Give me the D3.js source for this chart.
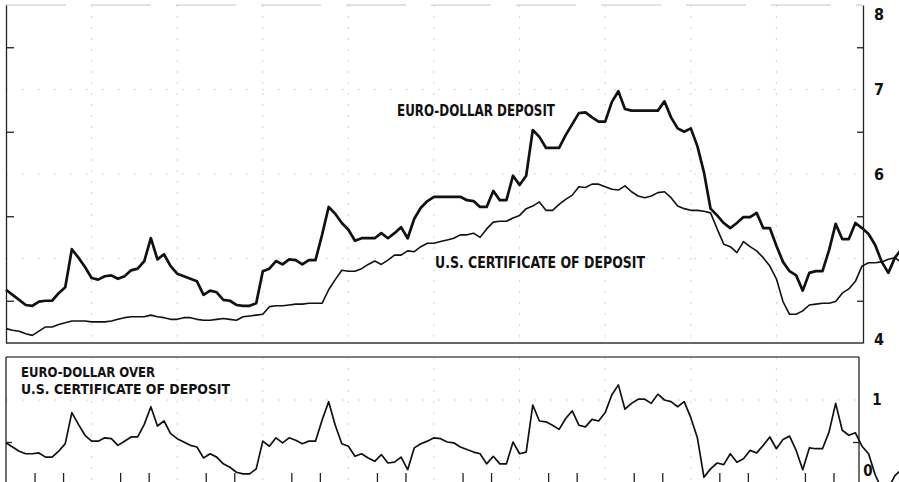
<!DOCTYPE html>
<html>
<head>
<meta charset="utf-8">
<script src="https://cdn.jsdelivr.net/npm/d3@7"></script>
<style>
  html, body { margin: 0; padding: 0; background: #fff; }
  svg { display: block; }
  .lbl { font-family: 'Liberation Sans Narrow', 'DejaVu Sans Condensed', sans-serif; font-weight: bold; fill: #111; }
  .grid { stroke: #d2d2d2; stroke-width: 1; stroke-dasharray: 2,9; fill: none; }
  .hgrid { stroke: #d8d8d8; stroke-width: 1; stroke-dasharray: 2,14; fill: none; }
  .axis path, .axis line { stroke: #222; stroke-width: 1.3; }
  .frame { stroke: #333; stroke-width: 1.3; fill: none; }
  .frame-light { stroke: #c6c6c6; stroke-width: 1; fill: none; stroke-dasharray: 60,25; }
</style>
</head>
<body>
<div id="chart"></div>
<script>
// weekly observations, percent per annum (week 0 = left edge, 13 weeks per quarter)
var euroDollar = [
  4.63, 4.57, 4.51, 4.45, 4.44, 4.49, 4.50, 4.50, 4.59, 4.66,
  5.11, 5.01, 4.90, 4.77, 4.75, 4.79, 4.80, 4.76, 4.79, 4.86,
  4.88, 4.97, 5.24, 4.99, 5.05, 4.91, 4.82, 4.79, 4.76, 4.73,
  4.57, 4.62, 4.60, 4.51, 4.50, 4.45, 4.44, 4.44, 4.47, 4.85,
  4.88, 4.97, 4.93, 4.99, 4.98, 4.93, 4.98, 4.98, 5.28, 5.61,
  5.53, 5.42, 5.34, 5.21, 5.24, 5.24, 5.24, 5.30, 5.24, 5.30,
  5.37, 5.24, 5.47, 5.60, 5.68, 5.73, 5.73, 5.73, 5.73, 5.73,
  5.69, 5.68, 5.61, 5.61, 5.80, 5.69, 5.69, 5.98, 5.87, 5.98,
  6.52, 6.44, 6.31, 6.31, 6.31, 6.46, 6.59, 6.72, 6.73, 6.67,
  6.62, 6.62, 6.85, 6.98, 6.77, 6.75, 6.75, 6.75, 6.75, 6.75,
  6.86, 6.67, 6.54, 6.50, 6.54, 6.33, 6.02, 5.59, 5.51, 5.42,
  5.36, 5.42, 5.49, 5.49, 5.54, 5.36, 5.36, 5.15, 4.96, 4.85,
  4.80, 4.62, 4.83, 4.85, 4.85, 5.10, 5.41, 5.23, 5.23, 5.42,
  5.36, 5.29, 5.16, 4.96, 4.83, 5.01, 5.11
];

var usCD = [
  4.17, 4.15, 4.14, 4.11, 4.09, 4.14, 4.19, 4.19, 4.22, 4.24,
  4.26, 4.26, 4.26, 4.25, 4.25, 4.25, 4.26, 4.28, 4.30, 4.31,
  4.31, 4.31, 4.33, 4.31, 4.30, 4.28, 4.28, 4.30, 4.30, 4.28,
  4.27, 4.27, 4.28, 4.29, 4.28, 4.27, 4.31, 4.32, 4.33, 4.34,
  4.43, 4.44, 4.44, 4.45, 4.46, 4.46, 4.47, 4.47, 4.47, 4.63,
  4.75, 4.86, 4.85, 4.85, 4.88, 4.93, 4.97, 4.93, 4.98, 5.04,
  5.04, 5.09, 5.08, 5.14, 5.18, 5.18, 5.20, 5.22, 5.24, 5.28,
  5.28, 5.30, 5.25, 5.35, 5.43, 5.44, 5.44, 5.48, 5.51, 5.59,
  5.62, 5.67, 5.57, 5.57, 5.64, 5.70, 5.75, 5.85, 5.84, 5.88,
  5.88, 5.85, 5.82, 5.81, 5.86, 5.79, 5.74, 5.72, 5.74, 5.78,
  5.79, 5.72, 5.62, 5.59, 5.57, 5.57, 5.56, 5.54, 5.35, 5.17,
  5.14, 5.07, 5.20, 5.14, 5.09, 5.01, 4.91, 4.76, 4.49, 4.34,
  4.34, 4.38, 4.45, 4.46, 4.47, 4.47, 4.49, 4.59, 4.64, 4.73,
  4.91, 4.95, 4.95, 4.96, 4.99, 5.01, 4.95
];

var spread = [
  0.49, 0.44, 0.39, 0.36, 0.36, 0.37, 0.32, 0.32, 0.39, 0.48,
  0.85, 0.71, 0.58, 0.51, 0.51, 0.55, 0.54, 0.46, 0.51, 0.56,
  0.56, 0.71, 0.92, 0.69, 0.75, 0.60, 0.54, 0.50, 0.46, 0.44,
  0.31, 0.36, 0.32, 0.24, 0.20, 0.14, 0.12, 0.12, 0.18, 0.51,
  0.45, 0.55, 0.49, 0.55, 0.52, 0.48, 0.51, 0.51, 0.76, 0.98,
  0.70, 0.48, 0.45, 0.33, 0.36, 0.31, 0.27, 0.35, 0.25, 0.26,
  0.32, 0.17, 0.43, 0.48, 0.51, 0.55, 0.54, 0.50, 0.49, 0.44,
  0.41, 0.38, 0.36, 0.24, 0.33, 0.24, 0.24, 0.50, 0.36, 0.38,
  0.94, 0.75, 0.74, 0.70, 0.65, 0.78, 0.87, 0.70, 0.68, 0.77,
  0.75, 0.85, 1.06, 1.18, 0.89, 0.96, 1.01, 1.01, 0.96, 1.07,
  1.00, 0.98, 0.92, 0.98, 0.79, 0.55, 0.08, 0.18, 0.25, 0.23,
  0.36, 0.26, 0.30, 0.40, 0.37, 0.46, 0.56, 0.42, 0.53, 0.57,
  0.40, 0.17, 0.43, 0.42, 0.42, 0.62, 0.96, 0.64, 0.58, 0.61,
  0.45, 0.36, 0.11, -0.06, -0.05, 0.10, 0.17
];

var topLabels = [4, 6, 7, 8];
var topHalfTicks = [4.5, 5.5, 6.5, 7.5];
var bottomLabels = [0, 1];
var quarterWeeks = [13, 26, 39, 52, 65, 78, 91, 104, 117];
var monthWeeks = [];
[0, 13, 26, 39, 52, 65, 78, 91, 104, 117].forEach(function (q) {
  monthWeeks.push(q + 13 / 3, q + 26 / 3);
});

var width = 899, height = 482;

var svg = d3.select('#chart').append('svg')
  .attr('width', width)
  .attr('height', height);

var x = d3.scaleLinear().domain([0, 130]).range([6, 862]);
var yTop = d3.scaleLinear().domain([4, 8]).range([343, 5]);
var yBot = d3.scaleLinear().domain([0, 1]).range([484, 400]);

// ---- upper panel: the two rates ----
var upper = svg.append('g');

upper.selectAll('.grid')
  .data(quarterWeeks)
  .enter().append('line')
  .attr('class', 'grid')
  .attr('x1', function (d) { return x(d); })
  .attr('x2', function (d) { return x(d); })
  .attr('y1', 5).attr('y2', 343);

upper.selectAll('.hgrid')
  .data([5, 6, 7])
  .enter().append('line')
  .attr('class', 'hgrid')
  .attr('x1', 6).attr('x2', 862)
  .attr('y1', function (d) { return yTop(d); })
  .attr('y2', function (d) { return yTop(d); });

upper.append('line').attr('class', 'frame-light')
  .attr('x1', 6).attr('x2', 863).attr('y1', 5).attr('y2', 5);
upper.append('line').attr('class', 'frame')
  .attr('x1', 6).attr('x2', 863).attr('y1', 343).attr('y2', 343);

upper.append('g').attr('class', 'axis')
  .attr('transform', 'translate(6,0)')
  .call(d3.axisRight(yTop).tickValues(topHalfTicks).tickSize(8).tickSizeOuter(0).tickFormat(''));

upper.append('g').attr('class', 'axis')
  .attr('transform', 'translate(863,0)')
  .call(d3.axisRight(yTop).tickValues(topHalfTicks).tickSize(-6).tickSizeOuter(0).tickFormat(''));

upper.selectAll('.ylab')
  .data(topLabels)
  .enter().append('text')
  .attr('class', 'lbl')
  .attr('x', 879)
  .attr('y', function (d) { return Math.max(14, Math.min(339, yTop(d))); })
  .attr('dy', '0.36em')
  .attr('text-anchor', 'middle')
  .attr('font-size', 16)
  .text(function (d) { return d; });

var lineTop = function (vals) {
  return d3.line()
    .x(function (d, i) { return x(i); })
    .y(function (d) { return yTop(d); })(vals);
};

upper.append('path')
  .attr('d', lineTop(usCD))
  .attr('fill', 'none').attr('stroke', '#111')
  .attr('stroke-width', 1.6).attr('stroke-linejoin', 'round');

upper.append('path')
  .attr('d', lineTop(euroDollar))
  .attr('fill', 'none').attr('stroke', '#111')
  .attr('stroke-width', 2.7).attr('stroke-linejoin', 'round');

upper.append('text').attr('class', 'lbl')
  .attr('x', 397).attr('y', 116)
  .attr('font-size', 15.5)
  .attr('textLength', 158).attr('lengthAdjust', 'spacingAndGlyphs')
  .text('EURO-DOLLAR DEPOSIT');

upper.append('text').attr('class', 'lbl')
  .attr('x', 435).attr('y', 268)
  .attr('font-size', 15.5)
  .attr('textLength', 210).attr('lengthAdjust', 'spacingAndGlyphs')
  .text('U.S. CERTIFICATE OF DEPOSIT');

// ---- lower panel: the spread ----
var lower = svg.append('g');

lower.selectAll('.grid')
  .data(quarterWeeks)
  .enter().append('line')
  .attr('class', 'grid')
  .attr('x1', function (d) { return x(d); })
  .attr('x2', function (d) { return x(d); })
  .attr('y1', 357).attr('y2', 484);

lower.append('line').attr('class', 'hgrid')
  .attr('x1', 6).attr('x2', 859)
  .attr('y1', yBot(1)).attr('y2', yBot(1));

lower.append('line').attr('class', 'frame')
  .attr('x1', 6).attr('x2', 859).attr('y1', 357).attr('y2', 357)
  .style('stroke', '#555');

lower.append('g').attr('class', 'axis')
  .attr('transform', 'translate(6,0)')
  .call(d3.axisRight(yBot).tickValues([0.5]).tickSize(6).tickSizeOuter(0).tickFormat(''))
  .select('.domain').attr('d', 'M0,357V484');

lower.append('g').attr('class', 'axis')
  .attr('transform', 'translate(859,0)')
  .call(d3.axisRight(yBot).tickValues([0.5]).tickSize(-6).tickSizeOuter(0).tickFormat(''))
  .select('.domain').attr('d', 'M0,357V484');

lower.append('g').attr('class', 'axis')
  .attr('transform', 'translate(0,484)')
  .call(d3.axisTop(x).tickValues(monthWeeks).tickSize(11).tickSizeOuter(0).tickFormat(''));

lower.selectAll('.ylab')
  .data(bottomLabels)
  .enter().append('text')
  .attr('class', 'lbl')
  .attr('x', function (d) { return d === 1 ? 877 : 868; })
  .attr('y', function (d) { return Math.min(471, yBot(d)); })
  .attr('dy', '0.36em')
  .attr('text-anchor', 'middle')
  .attr('font-size', 15)
  .text(function (d) { return d; });

lower.append('path')
  .attr('d', d3.line()
    .x(function (d, i) { return x(i); })
    .y(function (d) { return yBot(d); })(spread))
  .attr('fill', 'none').attr('stroke', '#111')
  .attr('stroke-width', 1.7).attr('stroke-linejoin', 'round');

lower.append('text').attr('class', 'lbl')
  .attr('x', 21).attr('y', 377)
  .attr('font-size', 14)
  .attr('textLength', 134).attr('lengthAdjust', 'spacingAndGlyphs')
  .text('EURO-DOLLAR OVER');

lower.append('text').attr('class', 'lbl')
  .attr('x', 21).attr('y', 394)
  .attr('font-size', 14)
  .attr('textLength', 209).attr('lengthAdjust', 'spacingAndGlyphs')
  .text('U.S. CERTIFICATE OF DEPOSIT');
</script>
</body>
</html>
